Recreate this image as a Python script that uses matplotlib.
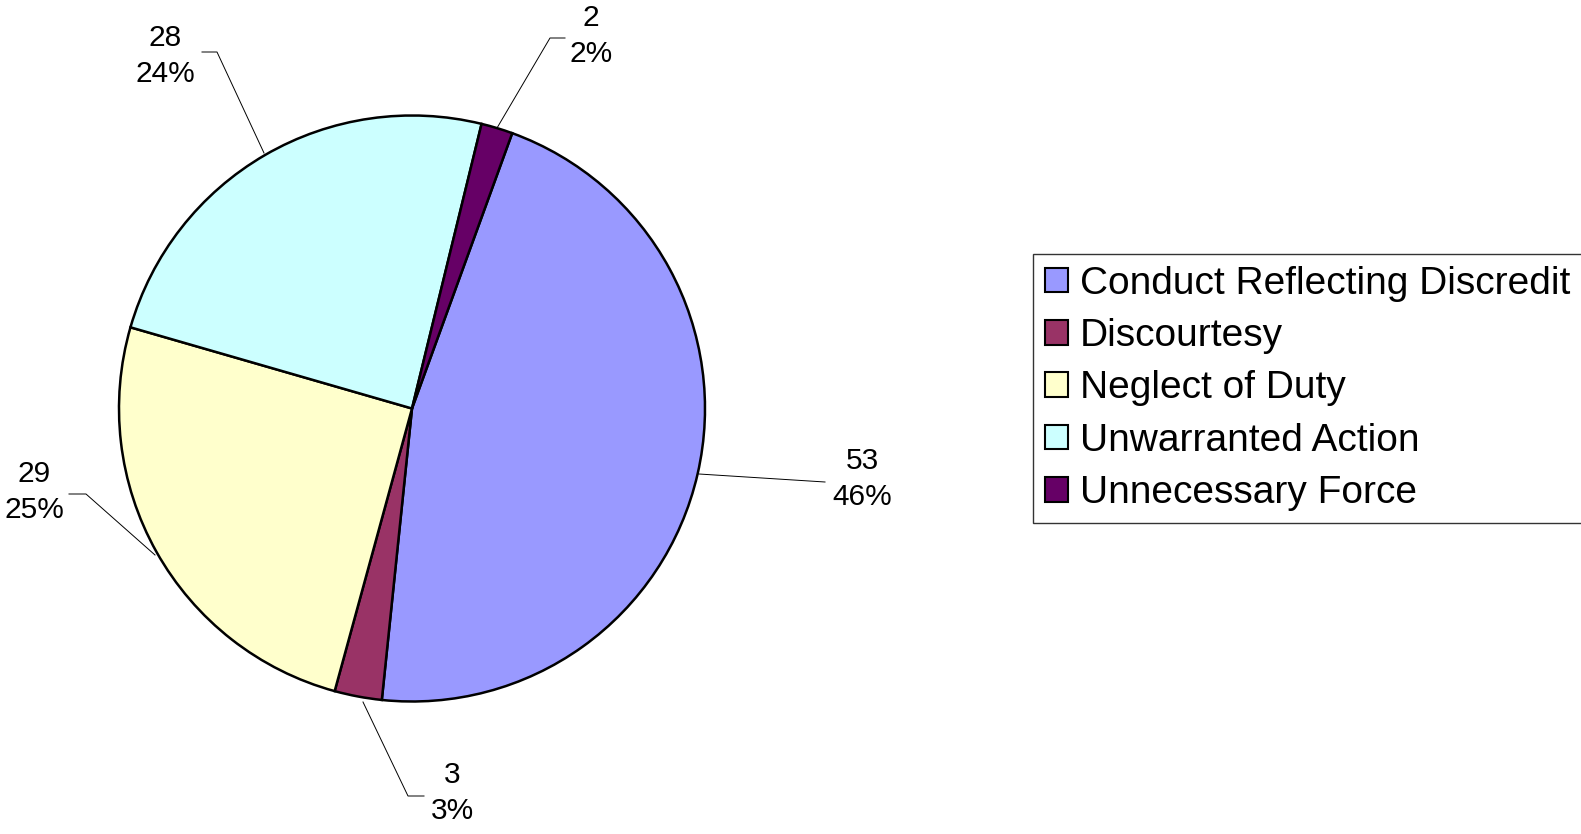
import matplotlib
matplotlib.use("Agg")
import matplotlib.pyplot as plt
from matplotlib.patches import Patch

plt.rcParams['font.family'] = ['Liberation Sans', 'DejaVu Sans']

categories = ["Conduct Reflecting Discredit", "Discourtesy", "Neglect of Duty",
              "Unwarranted Action", "Unnecessary Force"]
values = [53, 3, 29, 28, 2]
colors = ["#9999FF", "#993366", "#FFFFCC", "#CCFFFF", "#660066"]

W, H = 1581, 834
fig = plt.figure(figsize=(W / 100, H / 100), dpi=100)
ax = fig.add_axes([0, 0, 1, 1])
ax.set_xlim(0, W)
ax.set_ylim(0, H)
ax.set_aspect('equal')
ax.axis('off')

cx, cy, r = 412, H - 408.5, 293
wedges, _ = ax.pie(values, colors=colors, startangle=70, counterclock=False,
                   center=(cx, cy), radius=r, frame=True,
                   wedgeprops=dict(edgecolor='black', linewidth=1.8))
ax.set_xlim(0, W)
ax.set_ylim(0, H)
ax.axis('off')

total = sum(values)
# label text centres and leader lines (pixel coords, y from top)
label_pos = [(862, 479), (452, 793), (34, 492), (165, 56), (591, 36)]
leaders = [
    [(699, 474), (825, 482)],
    [(363, 702), (408, 796), (424, 796)],
    [(155, 555), (86, 494), (69, 494)],
    [(264, 153), (217, 52), (202, 52)],
    [(497, 128), (550, 38), (565, 38)],
]
for v, (tx, ty), pts in zip(values, label_pos, leaders):
    pct = round(100 * v / total)
    ax.text(tx, H - ty, f"{v}\n{pct}%", ha='center', va='center',
            fontsize=21.5, linespacing=1.33, color='black')
    xs = [p[0] for p in pts]
    ys = [H - p[1] for p in pts]
    ax.plot(xs, ys, color='black', lw=0.7)

handles = [Patch(facecolor=c, edgecolor='black', linewidth=1.5) for c in colors]
leg = fig.legend(handles, categories, loc='center left',
                 bbox_to_anchor=(1033 / W, 1 - 388.5 / H),
                 fontsize=28, frameon=True, fancybox=False,
                 edgecolor='black', handlelength=0.6, handleheight=0.6,
                 handletextpad=0.3, labelspacing=0.42, borderpad=0.3,
                 borderaxespad=0)
leg.get_frame().set_linewidth(1.0)

fig.savefig("out.png", dpi=100, facecolor='white')
